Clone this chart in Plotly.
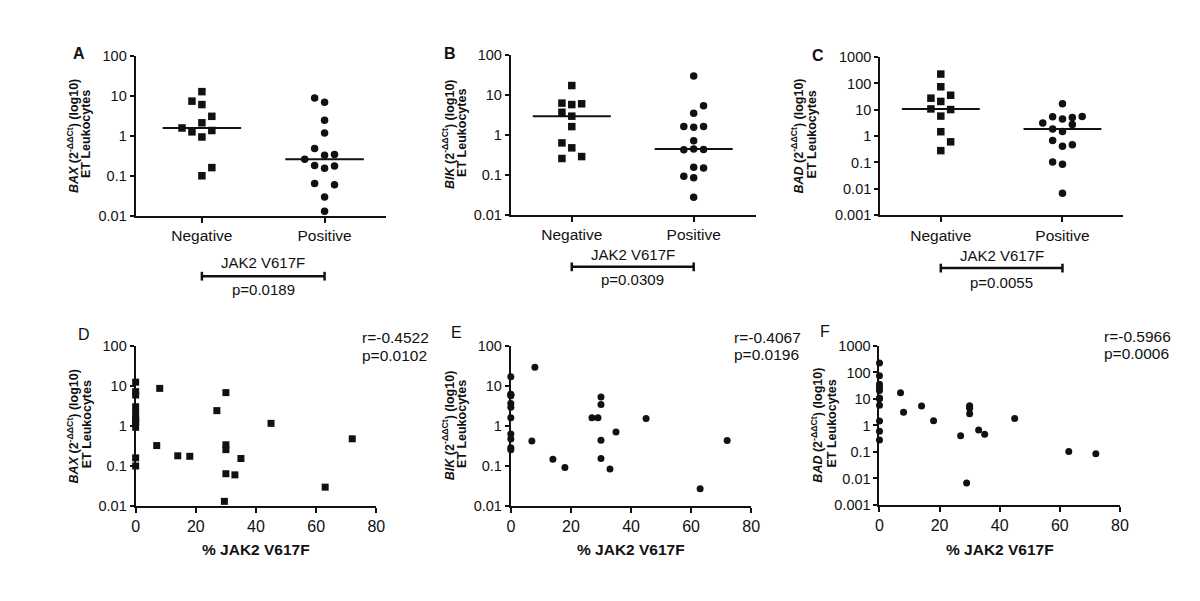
import numpy as np
import plotly.graph_objects as go

W, H = 1200, 601
FONT = "Liberation Sans, Arial, Helvetica, sans-serif"
INK = "#111111"

# ---------------- data ----------------
categories = ["Negative", "Positive"]
group_label = "JAK2 V617F"
top_letters = ["A", "B", "C"]
bot_letters = ["D", "E", "F"]
gene_names = ["BAX", "BIK", "BAD"]
p_group = ["p=0.0189", "p=0.0309", "p=0.0055"]
r_corr = ["r=-0.4522", "r=-0.4067", "r=-0.5966"]
p_corr = ["p=0.0102", "p=0.0196", "p=0.0006"]
x_title = "% JAK2 V617F"
pct_ticks = [0, 20, 40, 60, 80]
y_ticks_4 = [0.01, 0.1, 1, 10, 100]
y_ticks_4_text = ["0.01", "0.1", "1", "10", "100"]
y_ticks_6 = [0.001, 0.01, 0.1, 1, 10, 100, 1000]
y_ticks_6_text = ["0.001", "0.01", "0.1", "1", "10", "100", "1000"]

# BAX
bax_neg = [12.6, 7.3, 6.0, 3.05, 2.1, 1.56, 1.25, 1.35, 0.93, 0.16, 0.10]
bax_neg_col = [0, -1, 0, 1, 0, -2, -1, 1, 0, 1, 0]
bax_pos = [8.8, 6.9, 2.44, 1.17, 0.48, 0.325, 0.34, 0.257, 0.18, 0.154, 0.175, 0.064, 0.06, 0.0295, 0.013]
bax_pos_pct = [8, 30, 27, 45, 72, 7, 30, 30, 14, 35, 18, 30, 33, 63, 29.5]
bax_pos_col = [-1, 0, 0, 0, -1, 0, 1, -2, -1, 0, 1, -1, 1, 0, 0]

# BIK
bik_neg = [17.1, 6.2, 5.7, 5.97, 3.66, 2.92, 1.6, 0.625, 0.47, 0.254, 0.284]
bik_neg_col = [0, -1, 0, 1, -1, 0, 0, -1, 0, -1, 1]
bik_pos = [29.5, 5.33, 3.46, 1.6, 1.6, 1.54, 0.71, 0.42, 0.44, 0.43, 0.146, 0.153, 0.091, 0.084, 0.027]
bik_pos_pct = [8, 30, 30, 27, 29, 45, 35, 7, 30, 72, 14, 30, 18, 33, 63]
bik_pos_col = [0, 1, 0, -1, 1, 0, 0, -1, 0, 1, 1, 0, -1, 0, 0]

# BAD
bad_neg = [228, 75, 27.7, 35.7, 20.8, 10.8, 10.2, 5.77, 1.47, 0.607, 0.281]
bad_neg_col = [0, 0, -1, 1, 0, -1, 1, 0, 0, 1, 0]
bad_pos = [17, 5.45, 3.17, 4.47, 5.1, 5.6, 2.75, 1.85, 1.51, 0.68, 0.41, 0.47, 0.104, 0.085, 0.0068]
bad_pos_pct = [7, 14, 8, 30, 30, 30, 30, 45, 18, 33, 27, 35, 63, 72, 29]
bad_pos_col = [0, -1, -2, 0, 1, 2, 1, -1, 0, -1, 0, 1, -1, 0, 0]

neg_pct = [0] * 11

genes = [
    dict(neg=bax_neg, neg_col=bax_neg_col, pos=bax_pos, pos_col=bax_pos_col, pct=bax_pos_pct, sym_neg="square", sym_pos="circle", sym_bot="square"),
    dict(neg=bik_neg, neg_col=bik_neg_col, pos=bik_pos, pos_col=bik_pos_col, pct=bik_pos_pct, sym_neg="square", sym_pos="circle", sym_bot="circle"),
    dict(neg=bad_neg, neg_col=bad_neg_col, pos=bad_pos, pos_col=bad_pos_col, pct=bad_pos_pct, sym_neg="square", sym_pos="circle", sym_bot="circle"),
]

# ---------------- layout geometry (pixels) ----------------
top_geo = [
    dict(L=125, R=378, T=40.7, B=205.3, xr=[-0.54, 1.5], yr=[-2, 2]),
    dict(L=504.3, R=752, T=40, B=204, xr=[-0.50, 1.51], yr=[-2, 2]),
    dict(L=877.7, R=1123, T=42.3, B=204.5, xr=[-0.498, 1.496], yr=[-3, 3]),
]
bot_geo = [
    dict(L=125, R=368.3, T=339.3, B=503.3, yr=[-2, 2]),
    dict(L=504.3, R=747.3, T=339, B=503.3, yr=[-2, 2]),
    dict(L=877, R=1120, T=339, B=502.3, yr=[-3, 3]),
]
top_text_y = [  # JAK2 label, bracket, p label (px)
    (253.3, 267.3, 281), (245, 257.7, 271), (246, 259, 273.3)
]
ytitle_x_top = [(61, 75), (441, 455), (794, 809)]
ytitle_x_bot = [(62, 76), (441, 455), (814, 828)]
letter_pos_top = [(68, 39), (443, 39), (815, 41)]
letter_pos_bot = [(73, 327), (449, 325), (822, 324)]
rp_pos = [(352, 330, 349), (728, 330, 348), (1102, 329, 347)]

COL_STEP = 0.081
MED_HALF = 0.32


def px_x(v):
    return v / W


def px_y(v):
    return 1 - v / H


fig = go.Figure()
layout = dict(
    width=W, height=H, margin=dict(l=0, r=0, t=0, b=0),
    paper_bgcolor="white", plot_bgcolor="white", showlegend=False,
    font=dict(family=FONT, color=INK),
)
annotations = []
shapes = []


def axis_common():
    return dict(showgrid=False, zeroline=False, showline=True, linecolor=INK, linewidth=2,
                ticks="outside", ticklen=5, tickwidth=2, tickcolor=INK, mirror=False)


def add_ytitle(gene, x1, x2, cy):
    annotations.append(dict(text=f"<b><i>{gene}</i> (2<sup>-ΔΔCt</sup>) (log10)</b>", xref="paper", yref="paper",
                            x=px_x(x1), y=px_y(cy), textangle=-90, showarrow=False,
                            xanchor="center", yanchor="middle", font=dict(size=12.5, family=FONT, color=INK)))
    annotations.append(dict(text="<b>ET Leukocytes</b>", xref="paper", yref="paper",
                            x=px_x(x2), y=px_y(cy - 2), textangle=-90, showarrow=False,
                            xanchor="center", yanchor="middle", font=dict(size=12.5, family=FONT, color=INK)))


for i, g in enumerate(genes):
    # ---------- top panel ----------
    n = 2 * i + 1
    xa = "x" if n == 1 else f"x{n}"
    ya = "y" if n == 1 else f"y{n}"
    xkey = "xaxis" if n == 1 else f"xaxis{n}"
    ykey = "yaxis" if n == 1 else f"yaxis{n}"
    geo = top_geo[i]
    sixdec = geo["yr"][1] == 3
    layout[xkey] = dict(axis_common(), domain=[px_x(geo["L"]), px_x(geo["R"])], anchor=ya,
                        range=geo["xr"], tickvals=[0, 1], ticktext=categories,
                        tickfont=dict(size=15.5, family=FONT, color=INK))
    layout[ykey] = dict(axis_common(), domain=[px_y(geo["B"]), px_y(geo["T"])], anchor=xa,
                        type="log", range=geo["yr"],
                        tickvals=y_ticks_6 if sixdec else y_ticks_4,
                        ticktext=y_ticks_6_text if sixdec else y_ticks_4_text,
                        ticklen=4, tickfont=dict(size=14.5, family=FONT, color=INK))
    xneg = [0 + c * COL_STEP for c in g["neg_col"]]
    xpos = [1 + c * COL_STEP for c in g["pos_col"]]
    fig.add_trace(go.Scatter(x=xneg, y=g["neg"], mode="markers", xaxis=xa, yaxis=ya,
                             marker=dict(symbol=g["sym_neg"], size=7.5, color=INK), cliponaxis=False))
    fig.add_trace(go.Scatter(x=xpos, y=g["pos"], mode="markers", xaxis=xa, yaxis=ya,
                             marker=dict(symbol=g["sym_pos"], size=7.5, color=INK), cliponaxis=False))
    for c, vals in ((0, g["neg"]), (1, g["pos"])):
        med = float(np.median(vals))
        fig.add_trace(go.Scatter(x=[c - MED_HALF, c + MED_HALF], y=[med, med], mode="lines",
                                 xaxis=xa, yaxis=ya, line=dict(color=INK, width=2)))
    # bracket and labels
    xr = geo["xr"]
    f0 = (0 - xr[0]) / (xr[1] - xr[0])
    f1 = (1 - xr[0]) / (xr[1] - xr[0])
    fm = (0.5 - xr[0]) / (xr[1] - xr[0])
    ly, by, py = top_text_y[i]
    xd = f"{xa} domain"
    shapes.append(dict(type="line", xref=xd, yref="paper", x0=f0, x1=f1, y0=px_y(by), y1=px_y(by),
                       line=dict(color=INK, width=2.5)))
    for f in (f0, f1):
        shapes.append(dict(type="line", xref=xd, yref="paper", x0=f, x1=f, y0=px_y(by - 4.5), y1=px_y(by + 4.5),
                           line=dict(color=INK, width=2.5)))
    annotations.append(dict(text=group_label, xref=xd, yref="paper", x=fm, y=px_y(ly), showarrow=False,
                            xanchor="center", yanchor="middle", font=dict(size=15, family=FONT, color=INK)))
    annotations.append(dict(text=p_group[i], xref=xd, yref="paper", x=fm, y=px_y(py), showarrow=False,
                            xanchor="center", yanchor="middle", font=dict(size=15, family=FONT, color=INK)))
    cy = (geo["T"] + geo["B"]) / 2
    add_ytitle(gene_names[i], *ytitle_x_top[i], cy)
    lx, lyy = letter_pos_top[i]
    annotations.append(dict(text=f"<b>{top_letters[i]}</b>", xref="paper", yref="paper", x=px_x(lx), y=px_y(lyy),
                            showarrow=False, xanchor="center", yanchor="middle",
                            font=dict(size=16, family=FONT, color=INK)))

    # ---------- bottom panel ----------
    n = 2 * i + 2
    xa = f"x{n}"
    ya = f"y{n}"
    xkey = f"xaxis{n}"
    ykey = f"yaxis{n}"
    geo = bot_geo[i]
    layout[xkey] = dict(axis_common(), domain=[px_x(geo["L"]), px_x(geo["R"])], anchor=ya,
                        range=[pct_ticks[0], pct_ticks[-1]], tickvals=pct_ticks,
                        tickfont=dict(size=16, family=FONT, color=INK))
    layout[ykey] = dict(axis_common(), domain=[px_y(geo["B"]), px_y(geo["T"])], anchor=xa,
                        type="log", range=geo["yr"],
                        tickvals=y_ticks_6 if sixdec else y_ticks_4,
                        ticktext=y_ticks_6_text if sixdec else y_ticks_4_text,
                        ticklen=4, tickfont=dict(size=14.5, family=FONT, color=INK))
    fig.add_trace(go.Scatter(x=neg_pct + g["pct"], y=g["neg"] + g["pos"], mode="markers",
                             xaxis=xa, yaxis=ya, cliponaxis=False,
                             marker=dict(symbol=g["sym_bot"], size=7, color=INK)))
    annotations.append(dict(text=f"<b>{x_title}</b>", xref=f"{xa} domain", yref="paper", x=0.5, y=px_y(548),
                            showarrow=False, xanchor="center", yanchor="middle",
                            font=dict(size=15.5, family=FONT, color=INK)))
    cy = (geo["T"] + geo["B"]) / 2
    add_ytitle(gene_names[i], *ytitle_x_bot[i], cy)
    lx, lyy = letter_pos_bot[i]
    annotations.append(dict(text=bot_letters[i], xref="paper", yref="paper", x=px_x(lx), y=px_y(lyy),
                            showarrow=False, xanchor="center", yanchor="middle",
                            font=dict(size=16, family=FONT, color=INK)))
    rx, ry, py2 = rp_pos[i]
    annotations.append(dict(text=r_corr[i], xref="paper", yref="paper", x=px_x(rx), y=px_y(ry),
                            showarrow=False, xanchor="left", yanchor="middle",
                            font=dict(size=15.5, family=FONT, color=INK)))
    annotations.append(dict(text=p_corr[i], xref="paper", yref="paper", x=px_x(rx), y=px_y(py2),
                            showarrow=False, xanchor="left", yanchor="middle",
                            font=dict(size=15.5, family=FONT, color=INK)))

layout["annotations"] = annotations
layout["shapes"] = shapes
fig.update_layout(**layout)
fig.write_html("out.html")
